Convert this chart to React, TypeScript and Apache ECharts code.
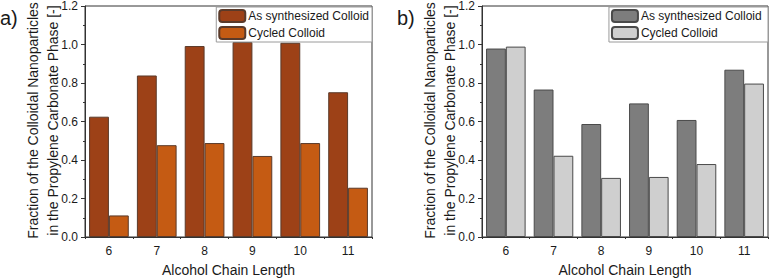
import React, { useEffect, useRef } from "react";
import * as echarts from "echarts";

// Alcohol chain lengths on the x axis
const chainLengths = ["6", "7", "8", "9", "10", "11"];

// Panel a) values
const aSynthesized = [0.625, 0.839, 0.992, 1.013, 1.009, 0.752];
const aCycled = [0.112, 0.477, 0.488, 0.421, 0.488, 0.256];

// Panel b) values
const bSynthesized = [0.979, 0.766, 0.587, 0.694, 0.608, 0.869];
const bCycled = [0.989, 0.422, 0.307, 0.312, 0.379, 0.797];

const seriesNames = ["As synthesized Colloid", "Cycled Colloid"];
const panelLabels = ["a)", "b)"];
const yTitle = "Fraction of the Colloidal Nanoparticles\nin the Propylene Carbonate Phase [-]";
const xTitle = "Alcohol Chain Length";

const FONT = "'Liberation Sans', Arial, sans-serif";
const AXIS = "#333333";
const TEXT = "#1a1a1a";

const grids = [
  { left: 85, top: 4, width: 287, height: 233 },
  { left: 482, top: 4, width: 286, height: 233 },
];

export default function App() {
  const ref = useRef<HTMLDivElement>(null);

  useEffect(() => {
    if (!ref.current) return;
    const chart = echarts.init(ref.current, undefined, { renderer: "svg" });

    const xAxes: any[] = [];
    const yAxes: any[] = [];
    grids.forEach((_, g) => {
      // main category axis with centred ticks and labels
      xAxes.push({
        type: "category",
        gridIndex: g,
        data: chainLengths,
        axisLine: { lineStyle: { color: AXIS, width: 1 } },
        axisTick: { alignWithLabel: true, length: 4, lineStyle: { color: AXIS } },
        axisLabel: { color: TEXT, fontSize: 12, fontFamily: FONT, margin: 8 },
      });
      // companion axis carrying the short ticks between categories
      xAxes.push({
        type: "category",
        gridIndex: g,
        position: "bottom",
        data: chainLengths,
        axisLine: { show: false },
        axisTick: { show: true, length: 2, lineStyle: { color: AXIS } },
        axisLabel: { show: false },
      });
      yAxes.push({
        type: "value",
        gridIndex: g,
        min: 0,
        max: 1.2,
        interval: 0.2,
        axisLine: { show: true, lineStyle: { color: AXIS, width: 1 } },
        axisTick: { show: true, length: 4, lineStyle: { color: AXIS } },
        minorTick: { show: true, splitNumber: 2, length: 2, lineStyle: { color: AXIS } },
        splitLine: { show: false },
        axisLabel: {
          color: TEXT,
          fontSize: 12,
          fontFamily: FONT,
          margin: 7,
          formatter: (v: number) => v.toFixed(1),
        },
      });
    });

    const barBase = {
      type: "bar",
      barGap: "0%",
      barCategoryGap: "17%",
    };

    const series = [
      {
        ...barBase,
        name: seriesNames[0],
        xAxisIndex: 0,
        yAxisIndex: 0,
        data: aSynthesized,
        itemStyle: { color: "#9d4117", borderColor: "#5a3a2a", borderWidth: 1 },
      },
      {
        ...barBase,
        name: seriesNames[1],
        xAxisIndex: 0,
        yAxisIndex: 0,
        data: aCycled,
        itemStyle: { color: "#c55b13", borderColor: "#5a3a2a", borderWidth: 1 },
      },
      {
        ...barBase,
        name: seriesNames[0] + " ",
        xAxisIndex: 2,
        yAxisIndex: 1,
        data: bSynthesized,
        itemStyle: { color: "#7d7d7d", borderColor: "#4a4a4a", borderWidth: 1 },
      },
      {
        ...barBase,
        name: seriesNames[1] + " ",
        xAxisIndex: 2,
        yAxisIndex: 1,
        data: bCycled,
        itemStyle: { color: "#cfcfcf", borderColor: "#4a4a4a", borderWidth: 1 },
      },
    ];

    const legendBase = {
      orient: "vertical",
      top: 7,
      itemWidth: 26,
      itemHeight: 12,
      itemGap: 3,
      padding: [2, 3, 2, 2],
      borderColor: "#9a9a9a",
      borderWidth: 1,
      backgroundColor: "#ffffff",
      selectedMode: false,
      textStyle: { color: TEXT, fontSize: 12, fontFamily: FONT, padding: [0, 0, 0, -2] },
    };

    const graphic: any[] = [];
    grids.forEach((gr, g) => {
      graphic.push({
        type: "text",
        left: g === 0 ? 0 : 397,
        top: 8,
        style: { text: panelLabels[g], fontSize: 20, fontFamily: FONT, fill: TEXT },
      });
      graphic.push({
        type: "text",
        x: gr.left - 42,
        y: gr.top + gr.height / 2,
        rotation: Math.PI / 2,
        style: {
          text: yTitle,
          fontSize: 14,
          lineHeight: 20,
          fontFamily: FONT,
          fill: TEXT,
          align: "center",
          verticalAlign: "middle",
        },
      });
      graphic.push({
        type: "text",
        x: gr.left + gr.width / 2,
        y: 270,
        style: {
          text: xTitle,
          fontSize: 14,
          fontFamily: FONT,
          fill: TEXT,
          align: "center",
          verticalAlign: "middle",
        },
      });
    });

    chart.setOption({
      animation: false,
      backgroundColor: "#ffffff",
      grid: grids.map((gr) => ({
        ...gr,
        show: true,
        borderColor: AXIS,
        borderWidth: 1,
        backgroundColor: "transparent",
      })),
      xAxis: xAxes,
      yAxis: yAxes,
      legend: [
        { ...legendBase, right: 771 - 372, data: [seriesNames[0], seriesNames[1]] },
        {
          ...legendBase,
          right: 3,
          data: [seriesNames[0] + " ", seriesNames[1] + " "],
        },
      ],
      series,
      graphic,
    });

    return () => chart.dispose();
  }, []);

  return (
    <div
      ref={ref}
      style={{ position: "absolute", left: 0, top: 0, width: 771, height: 279 }}
    />
  );
}
